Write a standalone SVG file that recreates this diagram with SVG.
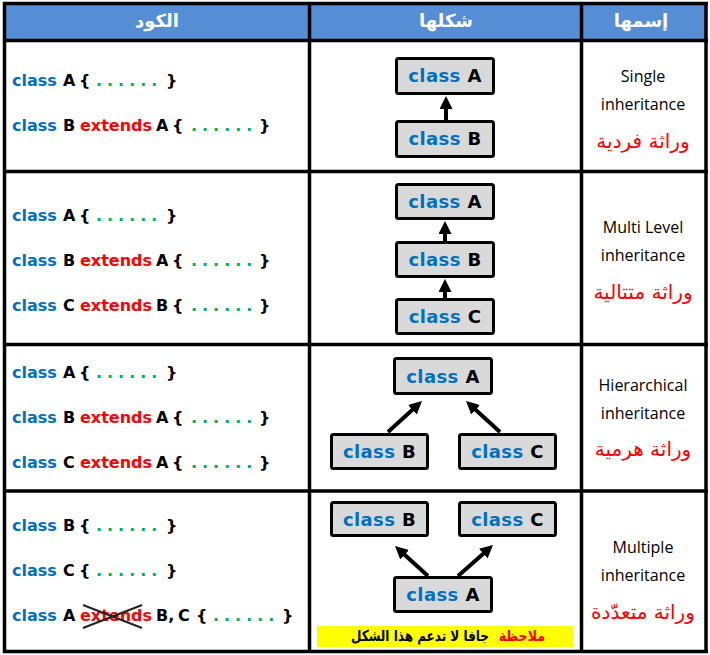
<svg xmlns="http://www.w3.org/2000/svg" width="710" height="655" viewBox="0 0 710 655">
<style>
.code{font-family:"DejaVu Sans",sans-serif;font-weight:bold;font-size:16px}
.kw{fill:#0070C0}
.bk{fill:#000}
.ex{fill:#FF0000}
.dt{fill:#00B050;letter-spacing:-0.3px}
.box rect{fill:#D9D9D9;stroke:#000;stroke-width:3}
.box text{font-family:"DejaVu Sans",sans-serif;font-weight:bold;font-size:18px;text-anchor:middle;letter-spacing:0.4px}
.en{font-family:"Open Sans","Liberation Sans",sans-serif;font-size:16px;fill:#000;text-anchor:middle}
.ar{font-family:"DejaVu Sans",sans-serif;font-size:20px;fill:#FF0000;text-anchor:middle}
.hd{font-family:"DejaVu Sans",sans-serif;font-weight:bold;font-size:18px;fill:#FFF;text-anchor:middle}
.nt{font-family:"DejaVu Sans",sans-serif;font-weight:bold;font-size:15px;text-anchor:end}
.grid line{stroke:#000;stroke-width:3.5}
.conn line{stroke:#000;stroke-width:4;marker-end:url(#ah)}
</style>
<defs>
<marker id="ah" viewBox="0 0 13 13" refX="3" refY="6.5" markerWidth="13" markerHeight="13" markerUnits="userSpaceOnUse" orient="auto">
<path d="M0,0 L13,6.5 L0,13 z" fill="#000"/>
</marker>
</defs>
<rect x="0" y="0" width="710" height="655" fill="#FFF"/>
<rect x="4" y="4" width="702" height="36" fill="#558ED5"/>
<g class="grid">
<line x1="3" y1="3.5" x2="708" y2="3.5"/>
<line x1="3" y1="40.5" x2="708" y2="40.5"/>
<line x1="3" y1="171.5" x2="708" y2="171.5"/>
<line x1="3" y1="344.5" x2="708" y2="344.5"/>
<line x1="3" y1="491" x2="708" y2="491"/>
<line x1="3" y1="651.5" x2="708" y2="651.5"/>
<line x1="4.5" y1="2" x2="4.5" y2="653"/>
<line x1="309.5" y1="2" x2="309.5" y2="653"/>
<line x1="581.5" y1="2" x2="581.5" y2="653"/>
<line x1="706" y1="2" x2="706" y2="653"/>
</g>
<g id="header">
<text class="hd" x="157" y="27">الكود</text>
<text class="hd" x="446" y="27">شكلها</text>
<text class="hd" x="641" y="27">إسمها</text>
</g>
<g id="code-row1" class="code">
<text y="86"><tspan class="kw" x="12">class</tspan><tspan class="bk" x="63">A</tspan><tspan class="bk" x="79">{</tspan><tspan class="dt" x="96">. . . . . .</tspan><tspan class="bk" x="166">}</tspan></text>
<text y="131"><tspan class="kw" x="12">class</tspan><tspan class="bk" x="63">B</tspan><tspan class="ex" x="80">extends</tspan><tspan class="bk" x="156">A</tspan><tspan class="bk" x="172">{</tspan><tspan class="dt" x="191">. . . . . .</tspan><tspan class="bk" x="259">}</tspan></text>
</g>
<g id="code-row2" class="code">
<text y="221"><tspan class="kw" x="12">class</tspan><tspan class="bk" x="63">A</tspan><tspan class="bk" x="79">{</tspan><tspan class="dt" x="96">. . . . . .</tspan><tspan class="bk" x="166">}</tspan></text>
<text y="266"><tspan class="kw" x="12">class</tspan><tspan class="bk" x="63">B</tspan><tspan class="ex" x="80">extends</tspan><tspan class="bk" x="156">A</tspan><tspan class="bk" x="172">{</tspan><tspan class="dt" x="191">. . . . . .</tspan><tspan class="bk" x="259">}</tspan></text>
<text y="311"><tspan class="kw" x="12">class</tspan><tspan class="bk" x="63">C</tspan><tspan class="ex" x="80">extends</tspan><tspan class="bk" x="156">B</tspan><tspan class="bk" x="172">{</tspan><tspan class="dt" x="191">. . . . . .</tspan><tspan class="bk" x="259">}</tspan></text>
</g>
<g id="code-row3" class="code">
<text y="378"><tspan class="kw" x="12">class</tspan><tspan class="bk" x="63">A</tspan><tspan class="bk" x="79">{</tspan><tspan class="dt" x="96">. . . . . .</tspan><tspan class="bk" x="166">}</tspan></text>
<text y="423"><tspan class="kw" x="12">class</tspan><tspan class="bk" x="63">B</tspan><tspan class="ex" x="80">extends</tspan><tspan class="bk" x="156">A</tspan><tspan class="bk" x="172">{</tspan><tspan class="dt" x="191">. . . . . .</tspan><tspan class="bk" x="259">}</tspan></text>
<text y="468"><tspan class="kw" x="12">class</tspan><tspan class="bk" x="63">C</tspan><tspan class="ex" x="80">extends</tspan><tspan class="bk" x="156">A</tspan><tspan class="bk" x="172">{</tspan><tspan class="dt" x="191">. . . . . .</tspan><tspan class="bk" x="259">}</tspan></text>
</g>
<g id="code-row4" class="code">
<text y="531"><tspan class="kw" x="12">class</tspan><tspan class="bk" x="63">B</tspan><tspan class="bk" x="79">{</tspan><tspan class="dt" x="96">. . . . . .</tspan><tspan class="bk" x="166">}</tspan></text>
<text y="576"><tspan class="kw" x="12">class</tspan><tspan class="bk" x="63">C</tspan><tspan class="bk" x="79">{</tspan><tspan class="dt" x="96">. . . . . .</tspan><tspan class="bk" x="166">}</tspan></text>
<text y="621"><tspan class="kw" x="12">class</tspan><tspan class="bk" x="63">A</tspan><tspan class="ex" x="80">extends</tspan><tspan class="bk" x="156">B,</tspan><tspan class="bk" x="178">C</tspan><tspan class="bk" x="196">{</tspan><tspan class="dt" x="213">. . . . . .</tspan><tspan class="bk" x="282">}</tspan></text>
<path d="M83,605 L142,628 M83,628 L142,605" stroke="#222" stroke-width="2" fill="none"/>
</g>
<g id="r1-A" class="box"><rect x="396.5" y="58.5" width="97" height="35" rx="2"/><text x="445" y="82"><tspan class="kw">class</tspan> <tspan class="bk">A</tspan></text></g>
<g id="r1-B" class="box"><rect x="396.5" y="121.5" width="97" height="35" rx="2"/><text x="445" y="145"><tspan class="kw">class</tspan> <tspan class="bk">B</tspan></text></g>
<g id="r2-A" class="box"><rect x="396.5" y="184.5" width="97" height="34" rx="2"/><text x="445" y="208"><tspan class="kw">class</tspan> <tspan class="bk">A</tspan></text></g>
<g id="r2-B" class="box"><rect x="396.5" y="242.5" width="97" height="34" rx="2"/><text x="445" y="266"><tspan class="kw">class</tspan> <tspan class="bk">B</tspan></text></g>
<g id="r2-C" class="box"><rect x="396.5" y="299.5" width="97" height="34" rx="2"/><text x="445" y="323"><tspan class="kw">class</tspan> <tspan class="bk">C</tspan></text></g>
<g id="r3-A" class="box"><rect x="394.5" y="358.5" width="97" height="35" rx="2"/><text x="443" y="382.5"><tspan class="kw">class</tspan> <tspan class="bk">A</tspan></text></g>
<g id="r3-B" class="box"><rect x="331.5" y="434.5" width="96" height="34" rx="2"/><text x="379.5" y="458"><tspan class="kw">class</tspan> <tspan class="bk">B</tspan></text></g>
<g id="r3-C" class="box"><rect x="459.5" y="434.5" width="96" height="34" rx="2"/><text x="507.5" y="458"><tspan class="kw">class</tspan> <tspan class="bk">C</tspan></text></g>
<g id="r4-B" class="box"><rect x="331.5" y="502.5" width="96" height="33" rx="2"/><text x="379.5" y="525.5"><tspan class="kw">class</tspan> <tspan class="bk">B</tspan></text></g>
<g id="r4-C" class="box"><rect x="459.5" y="502.5" width="96" height="33" rx="2"/><text x="507.5" y="525.5"><tspan class="kw">class</tspan> <tspan class="bk">C</tspan></text></g>
<g id="r4-A" class="box"><rect x="394.5" y="577.5" width="97" height="34" rx="2"/><text x="443" y="601"><tspan class="kw">class</tspan> <tspan class="bk">A</tspan></text></g>
<g class="conn">
<line x1="446" y1="120" x2="446" y2="106"/>
<line x1="445" y1="241" x2="445" y2="231"/>
<line x1="445" y1="298" x2="445" y2="289"/>
<line x1="388" y1="432" x2="414.6" y2="407.7"/>
<line x1="500" y1="432" x2="473.4" y2="407.7"/>
<line x1="428" y1="576" x2="402.4" y2="552.7"/>
<line x1="458" y1="576" x2="485.5" y2="551.7"/>
</g>
<g id="note">
<rect x="317" y="626" width="256" height="21" fill="#FFFF00"/>
<text class="nt" transform="translate(545,641) scale(0.84,1)" fill="#FF0000">ملاحظة</text>
<text class="nt" transform="translate(489,641) scale(0.8,1)" fill="#000">جافا لا تدعم هذا الشكل</text>
</g>
<g id="name-row1">
<text class="en" x="643" y="82">Single</text>
<text class="en" x="643" y="110">inheritance</text>
<text class="ar" x="643" y="148">وراثة فردية</text>
</g>
<g id="name-row2">
<text class="en" x="643" y="233">Multi Level</text>
<text class="en" x="643" y="261">inheritance</text>
<text class="ar" x="643" y="299">وراثة متتالية</text>
</g>
<g id="name-row3">
<text class="en" x="643" y="391">Hierarchical</text>
<text class="en" x="643" y="419">inheritance</text>
<text class="ar" x="643" y="456">وراثة هرمية</text>
</g>
<g id="name-row4">
<text class="en" x="643" y="553">Multiple</text>
<text class="en" x="643" y="581">inheritance</text>
<text class="ar" x="643" y="619">وراثة متعدّدة</text>
</g>
</svg>
